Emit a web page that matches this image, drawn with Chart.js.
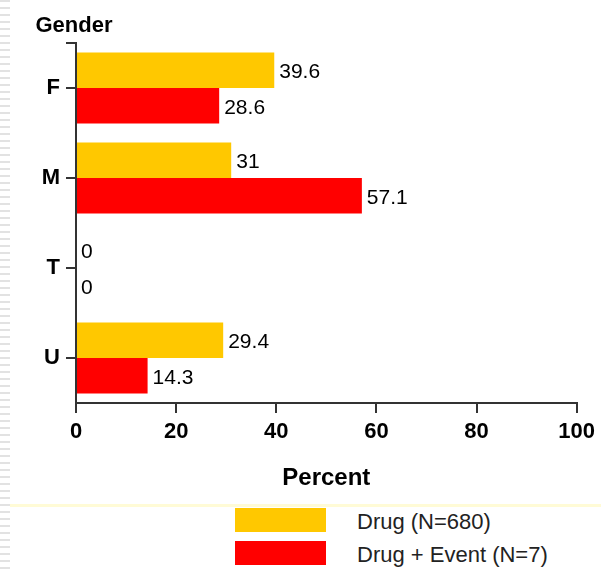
<!DOCTYPE html>
<html>
<head>
<meta charset="utf-8">
<script src="https://cdn.jsdelivr.net/npm/chart.js@4"></script>
<style>
  body { margin: 0; background: #fff; width: 601px; height: 573px; position: relative; overflow: hidden; font-family: "Liberation Sans", Arial, sans-serif; }
  #strip { position: absolute; left: 0; top: 0; width: 10px; height: 573px;
    background: repeating-linear-gradient(to bottom, #e2e2e2 0 2px, transparent 2px 7px); }
  #wrap { position: absolute; left: 0; top: 0; width: 601px; height: 500px; }
  #sep { position: absolute; left: 10px; top: 504px; width: 591px; height: 3px; background: #fffbd6; }
  #legend { position: absolute; left: 235px; top: 508px; }
  .item { display: flex; align-items: center; height: 24px; margin-bottom: 9px; }
  .item .box { width: 91px; height: 24px; margin-right: 31px; }
  .item span { font-size: 22px; color: #222; position: relative; top: 2px; }
</style>
</head>
<body>
<div id="strip"></div>
<div id="wrap"><canvas id="chart" width="601" height="500"></canvas></div>
<div id="sep"></div>
<div id="legend"></div>
<script>
const genders = ["F", "M", "T", "U"];
const drugValues = [39.6, 31, 0, 29.4];
const eventValues = [28.6, 57.1, 0, 14.3];
const seriesNames = ["Drug (N=680)", "Drug + Event (N=7)"];
const seriesColors = ["#ffc800", "#ff0000"];
const xTicks = [0, 20, 40, 60, 80, 100];

const axisColor = "#333";
const fontFamily = '"Liberation Sans", Arial, sans-serif';

// value text after each bar, plus the horizontal "Gender" title on top of the y axis
const barLabels = {
  id: "barLabels",
  afterDatasetsDraw(chart) {
    const ctx = chart.ctx;
    ctx.save();
    ctx.font = "21px " + fontFamily;
    ctx.fillStyle = "#000";
    ctx.textBaseline = "middle";
    ctx.textAlign = "left";
    chart.data.datasets.forEach((ds, i) => {
      chart.getDatasetMeta(i).data.forEach((bar, j) => {
        ctx.fillText(String(ds.data[j]), bar.x + 5, bar.y + 2);
      });
    });

    const y = chart.scales.y;
    const top = chart.chartArea.top;
    ctx.strokeStyle = axisColor;
    ctx.lineWidth = 2;
    ctx.beginPath();
    ctx.moveTo(y.right - 10, top);
    ctx.lineTo(y.right, top);
    ctx.stroke();

    ctx.font = "bold 22px " + fontFamily;
    ctx.textAlign = "center";
    ctx.fillText("Gender", y.right - 2, top - 17);
    ctx.restore();
  }
};

new Chart(document.getElementById("chart"), {
  type: "bar",
  data: {
    labels: genders,
    datasets: [
      { label: seriesNames[0], data: drugValues, backgroundColor: seriesColors[0] },
      { label: seriesNames[1], data: eventValues, backgroundColor: seriesColors[1] }
    ]
  },
  options: {
    indexAxis: "y",
    responsive: false,
    animation: false,
    categoryPercentage: 0.79,
    barPercentage: 1,
    layout: { padding: { top: 43, right: 24, left: 0, bottom: 0 } },
    plugins: {
      legend: { display: false },
      tooltip: { enabled: false }
    },
    scales: {
      x: {
        min: 0,
        max: 100,
        afterBuildTicks: (scale) => { scale.ticks = xTicks.map(v => ({ value: v })); },
        afterFit: (scale) => { scale.height = 97; },
        border: { color: axisColor, width: 2 },
        grid: { drawOnChartArea: false, tickLength: 10, color: axisColor, lineWidth: 2 },
        ticks: { color: "#000", padding: 6, font: { family: fontFamily, size: 22, weight: "bold", lineHeight: 1.2 } },
        title: { display: true, text: "Percent", color: "#000", padding: { top: 0, bottom: 7 },
          font: { family: fontFamily, size: 24, weight: "bold", lineHeight: 1.2 } }
      },
      y: {
        afterFit: (scale) => { scale.width = 76; },
        border: { color: axisColor, width: 2 },
        grid: { drawOnChartArea: false, offset: false, tickLength: 10, color: axisColor, lineWidth: 2 },
        ticks: { color: "#000", padding: 6, font: { family: fontFamily, size: 22, weight: "bold" } }
      }
    }
  },
  plugins: [barLabels]
});

document.getElementById("legend").innerHTML = seriesNames.map((name, i) =>
  `<div class="item"><div class="box" style="background:${seriesColors[i]}"></div><span>${name}</span></div>`
).join("");
</script>
</body>
</html>
